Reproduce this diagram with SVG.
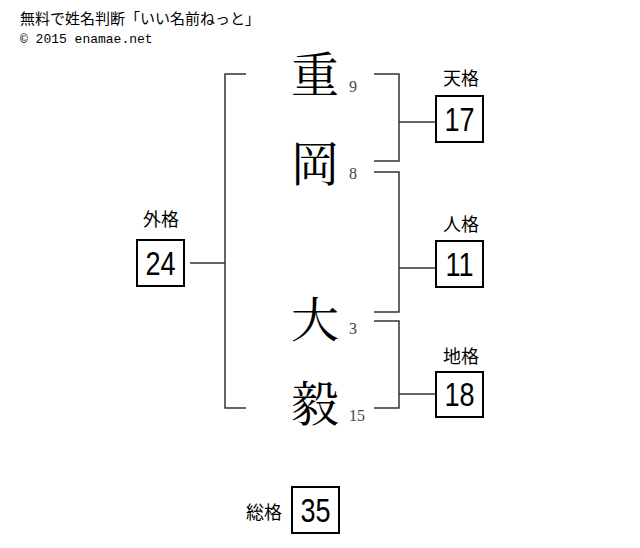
<svg xmlns="http://www.w3.org/2000/svg" width="640" height="548" viewBox="0 0 640 548">
<style>
.hdr{font-family:"Noto Sans CJK JP","Liberation Sans",sans-serif;font-size:15px;fill:#000}
.mono{font-family:"Liberation Mono",monospace;font-size:13px;fill:#000}
.kanji{font-family:"Noto Serif CJK JP","Noto Sans CJK JP",serif;font-size:48px;fill:#000;text-anchor:middle}
.num{font-family:"Liberation Serif",serif;font-size:16px;fill:#444}
.lbl{font-family:"Noto Sans CJK JP",sans-serif;font-size:18px;fill:#000;text-anchor:middle}
.box{fill:#fff;stroke:#000;stroke-width:2}
.val{font-family:"Liberation Sans",Arial,sans-serif;font-size:33px;fill:#000;text-anchor:middle}
.ln{fill:none;stroke:#333;stroke-width:1.5}
</style>
<rect width="640" height="548" fill="#fff"/>
<g id="header">
<text class="hdr" x="20" y="24">無料で姓名判断「いい名前ねっと」</text>
<text class="mono" x="20" y="43">© 2015 enamae.net</text>
</g>
<g id="connectors">
<polyline class="ln" points="246,74 225,74 225,408 246,408"/>
<line class="ln" x1="190" y1="263" x2="225" y2="263"/>
<polyline class="ln" points="374,74 399,74 399,161 374,161"/>
<line class="ln" x1="399" y1="122" x2="435" y2="122"/>
<polyline class="ln" points="374,172 399,172 399,312 374,312"/>
<line class="ln" x1="399" y1="268" x2="435" y2="268"/>
<polyline class="ln" points="374,321 399,321 399,408 374,408"/>
<line class="ln" x1="399" y1="394" x2="435" y2="394"/>
</g>
<g id="name">
<text class="kanji" x="315" y="92">重</text>
<text class="num" x="349" y="92">9</text>
<text class="kanji" x="315" y="181">岡</text>
<text class="num" x="349" y="179">8</text>
<text class="kanji" x="315" y="337">大</text>
<text class="num" x="349" y="334">3</text>
<text class="kanji" x="315" y="421">毅</text>
<text class="num" x="349" y="421">15</text>
</g>
<g id="tenkaku">
<text class="lbl" x="461" y="85">天格</text>
<rect class="box" x="436" y="96" width="47" height="46"/>
<text class="val" transform="translate(459.5,131) scale(0.82,1)">17</text>
</g>
<g id="jinkaku">
<text class="lbl" x="461" y="231">人格</text>
<rect class="box" x="436" y="241" width="47" height="46"/>
<text class="val" transform="translate(459.5,276) scale(0.82,1)">11</text>
</g>
<g id="chikaku">
<text class="lbl" x="461" y="363">地格</text>
<rect class="box" x="436" y="372" width="47" height="45"/>
<text class="val" transform="translate(459.5,406) scale(0.82,1)">18</text>
</g>
<g id="gaikaku">
<text class="lbl" x="161" y="226">外格</text>
<rect class="box" x="137" y="240" width="47" height="46"/>
<text class="val" transform="translate(160.5,275) scale(0.82,1)">24</text>
</g>
<g id="soukaku">
<text class="lbl" x="264" y="519">総格</text>
<rect class="box" x="292" y="487" width="47" height="46"/>
<text class="val" transform="translate(315.5,522) scale(0.82,1)">35</text>
</g>
</svg>
